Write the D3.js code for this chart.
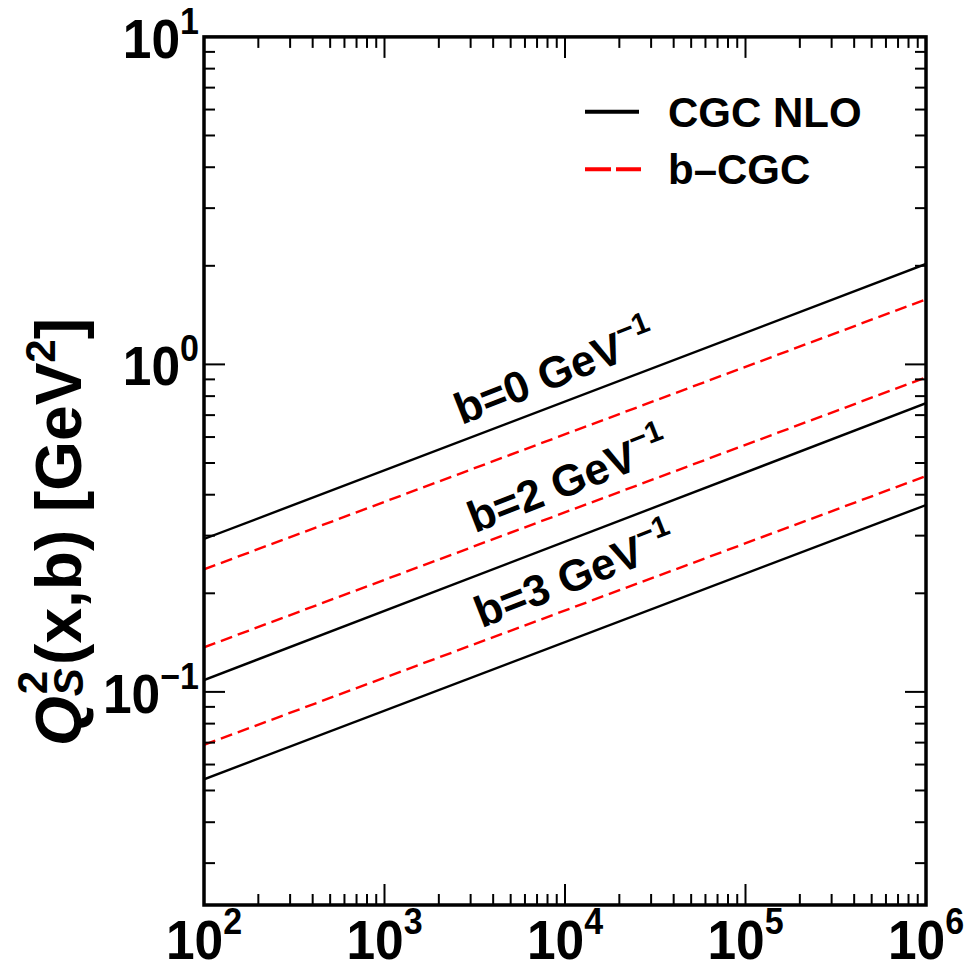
<!DOCTYPE html>
<html>
<head>
<meta charset="utf-8">
<script src="https://cdn.jsdelivr.net/npm/d3@7"></script>
<style>
  html, body { margin: 0; padding: 0; background: #fff; }
  svg text { font-family: "Liberation Sans", Arial, Helvetica, sans-serif; font-weight: bold; }
</style>
</head>
<body>
<svg id="chart" width="969" height="971"></svg>
<script>
// x grid of the curves (x-axis variable, log scale)
const xPoints = [1e2, 1e6];

// Saturation scale Q_s^2(x,b) in GeV^2 for each impact parameter
const cgcB0  = [0.293, 2.026];
const bcgcB0 = [0.2367, 1.58];
const cgcB2  = [0.1087, 0.761];
const bcgcB2 = [0.1368, 0.913];
const cgcB3  = [0.0541, 0.372];
const bcgcB3 = [0.0689, 0.456];

const seriesNames = ["CGC NLO", "b\u2013CGC"];
const bLabels = ["b=0", "b=2", "b=3"];
const xTickExponents = [2, 3, 4, 5, 6];
const yTickExponents = [-1, 0, 1];

const curves = [
  { vals: cgcB0,  kind: 0 }, { vals: bcgcB0, kind: 1 },
  { vals: cgcB2,  kind: 0 }, { vals: bcgcB2, kind: 1 },
  { vals: cgcB3,  kind: 0 }, { vals: bcgcB3, kind: 1 }
];

const svg = d3.select("#chart");
const W = 969, H = 971;
const pL = 204, pR = 926, pT = 36.9, pB = 905;

const x = d3.scaleLog().domain([1e2, 1e6]).range([pL, pR]);
const y = d3.scaleLog().domain([0.02235, 10]).range([pB, pT]);

svg.append("rect").attr("width", W).attr("height", H).attr("fill", "#fff");

svg.append("defs").append("clipPath").attr("id", "plotclip")
  .append("rect").attr("x", pL).attr("y", pT)
  .attr("width", pR - pL).attr("height", pB - pT);

// ---- curves ----
const line = d3.line().x(d => x(d[0])).y(d => y(d[1]));
const plot = svg.append("g").attr("clip-path", "url(#plotclip)");
curves.forEach(c => {
  plot.append("path")
    .datum(xPoints.map((xv, i) => [xv, c.vals[i]]))
    .attr("d", line)
    .attr("fill", "none")
    .attr("stroke", c.kind === 0 ? "#000" : "#ff0000")
    .attr("stroke-width", 2.4)
    .attr("stroke-dasharray", c.kind === 0 ? null : "12,6");
});

// ---- ticks on all four sides (pointing inward) ----
const majorLen = 21, minorLen = 11;
const tickG = svg.append("g").attr("stroke", "#000").attr("stroke-width", 2);

function logTicks(lo, hi) {
  const out = [];
  const e0 = Math.floor(Math.log10(lo)), e1 = Math.ceil(Math.log10(hi));
  for (let e = e0; e <= e1; e++) {
    for (let m = 1; m <= 9; m++) {
      const v = m * Math.pow(10, e);
      if (v >= lo * 0.9999 && v <= hi * 1.0001) out.push({ v, major: m === 1 });
    }
  }
  return out;
}

logTicks(1e2, 1e6).forEach(t => {
  const px = x(t.v), L = t.major ? majorLen : minorLen;
  tickG.append("line").attr("x1", px).attr("x2", px).attr("y1", pB).attr("y2", pB - L);
  tickG.append("line").attr("x1", px).attr("x2", px).attr("y1", pT).attr("y2", pT + L);
});
logTicks(y.domain()[0], 10).forEach(t => {
  const py = y(t.v), L = t.major ? majorLen : minorLen;
  tickG.append("line").attr("x1", pL).attr("x2", pL + L).attr("y1", py).attr("y2", py);
  tickG.append("line").attr("x1", pR).attr("x2", pR - L).attr("y1", py).attr("y2", py);
});

// frame
svg.append("rect").attr("x", pL).attr("y", pT)
  .attr("width", pR - pL).attr("height", pB - pT)
  .attr("fill", "none").attr("stroke", "#000").attr("stroke-width", 3.5);

// ---- tick labels (slightly condensed) ----
const labSize = 56, supSize = 37;
xTickExponents.forEach(e => {
  const t = svg.append("text")
    .attr("transform", `translate(${x(Math.pow(10, e))},959) scale(0.92,1)`)
    .attr("text-anchor", "middle").attr("font-size", labSize);
  t.append("tspan").text("10");
  t.append("tspan").attr("font-size", supSize).attr("dy", -25).text(String(e));
});
yTickExponents.forEach(e => {
  const t = svg.append("text")
    .attr("transform", `translate(199,${y(Math.pow(10, e)) + 21}) scale(0.92,1)`)
    .attr("text-anchor", "end").attr("font-size", labSize);
  t.append("tspan").text("10");
  t.append("tspan").attr("font-size", supSize).attr("dy", -24)
    .text(e < 0 ? "\u2212" + Math.abs(e) : String(e));
});

// ---- y-axis title ----
const yt = svg.append("text")
  .attr("transform", "translate(81,532) rotate(-90)")
  .attr("text-anchor", "middle").attr("font-size", 64);
yt.append("tspan").attr("font-style", "italic").text("Q");
yt.append("tspan").attr("font-size", 42).attr("font-style", "italic").attr("dy", 2).text("S");
yt.append("tspan").attr("font-size", 42).attr("dx", -26).attr("dy", -36).text("2");
yt.append("tspan").attr("dx", 6).attr("dy", 34).text("(x,b) [GeV");
yt.append("tspan").attr("font-size", 42).attr("dy", -26).text("2");
yt.append("tspan").attr("dy", 26).text("]");

// ---- curve labels, rotated along the lines ----
const labelAnchors = [[461.7, 425], [475, 533.3], [481.7, 628.3]];
const angle = -21.5;
bLabels.forEach((b, i) => {
  const t = svg.append("text")
    .attr("transform", `translate(${labelAnchors[i][0]},${labelAnchors[i][1]}) rotate(${angle})`)
    .attr("font-size", 44);
  t.append("tspan").text(b + " GeV");
  t.append("tspan").attr("font-size", 30).attr("dy", -19).text("\u22121");
});

// ---- legend ----
const leg = svg.append("g");
leg.append("line").attr("x1", 585).attr("x2", 639).attr("y1", 111.7).attr("y2", 111.7)
  .attr("stroke", "#000").attr("stroke-width", 4);
leg.append("line").attr("x1", 585).attr("x2", 641).attr("y1", 169.3).attr("y2", 169.3)
  .attr("stroke", "#ff0000").attr("stroke-width", 4).attr("stroke-dasharray", "26,5");
seriesNames.forEach((n, i) => {
  leg.append("text").attr("x", 668).attr("y", (i === 0 ? 111.7 : 169.3) + 15)
    .attr("font-size", 42).text(n);
});
</script>
</body>
</html>
